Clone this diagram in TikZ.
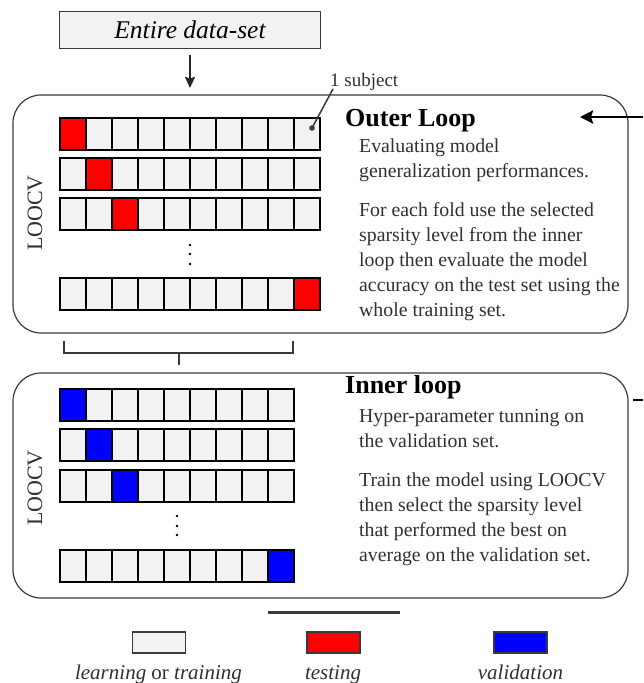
\documentclass[tikz,border=0pt]{standalone}
\usepackage{fontspec}
\setmainfont{Liberation Serif}
\usetikzlibrary{arrows.meta}
\definecolor{cellgray}{HTML}{F2F2F2}
\definecolor{edgegray}{HTML}{3A3A3A}
\definecolor{txtgray}{HTML}{303030}
\begin{document}
\begin{tikzpicture}[x=1pt,y=-1pt,
  cellbox/.style={draw=black, line width=1.2pt, minimum width=26pt, minimum height=32pt, inner sep=0pt, outer sep=0pt, anchor=north west},
  loopbox/.style={draw=edgegray, line width=1.2pt, rounded corners=28pt, inner sep=0pt, outer sep=0pt},
  bodytxt/.style={anchor=base west, inner sep=0pt, text=txtgray, font=\fontsize{19.8}{25}\selectfont},
  titletxt/.style={anchor=base west, inner sep=0pt, text=black, font=\fontsize{26}{30}\selectfont\bfseries},
  sidetxt/.style={rotate=90, inner sep=0pt, text=txtgray, font=\fontsize{22}{26}\selectfont},
  legbox/.style={draw=edgegray, line width=1.2pt, minimum width=53pt, minimum height=21pt, inner sep=0pt},
  legtxt/.style={anchor=base, inner sep=0pt, text=txtgray, font=\fontsize{21}{25}\selectfont},
  thick line/.style={draw=edgegray, line width=2.3pt},
  arr/.style={draw=black!85, line width=2.2pt, -{Stealth[length=11pt,width=10pt,inset=1.5pt]}},
  bigarr/.style={draw=black, line width=2.8pt, -{Stealth[length=13pt,width=13pt,inset=2pt]}}
]
\useasboundingbox (0,0) rectangle (643,683);

% entire data-set
\node[draw=edgegray, line width=1.2pt, fill=cellgray, minimum width=261pt, minimum height=37pt, inner sep=0pt,
      font=\fontsize{25.5}{30}\selectfont\itshape] (dataset) at (190,30) {Entire data-set};

% loop boxes
\node[loopbox, minimum width=615pt, minimum height=238pt] (outer) at (320.5,214) {};
\node[loopbox, minimum width=615pt, minimum height=225pt] (inner) at (320.5,485.5) {};

\draw[arr] ([yshift=-6pt]dataset.south) -- ([yshift=7pt]dataset.south |- outer.north);

% outer grid
\foreach \r/\yy/\tc in {1/118/1, 2/158/2, 3/198/3, 4/278/10} {
  \foreach \c in {1,...,10} {
    \ifnum\c=\tc\relax\def\fc{red}\else\def\fc{cellgray}\fi
    \node[cellbox, fill=\fc] (o\r-\c) at ({60+26*(\c-1)},\yy) {};
  }
}
% inner grid
\foreach \r/\yy/\tc in {1/389/1, 2/429/2, 3/470/3, 4/550/9} {
  \foreach \c in {1,...,9} {
    \ifnum\c=\tc\relax\def\fc{blue}\else\def\fc{cellgray}\fi
    \node[cellbox, fill=\fc] (i\r-\c) at ({60+26*(\c-1)},\yy) {};
  }
}

% vertical dots
\foreach \yy in {245,254,264} \fill (190,\yy) circle (1.3pt);
\foreach \yy in {516,526,535} \fill (177,\yy) circle (1.3pt);

% 1 subject
\node[anchor=base west, inner sep=0pt, text=txtgray, font=\fontsize{19}{23}\selectfont] (subj) at (330,86) {1 subject};
\coordinate (sdot) at (312,128);
\fill[edgegray] (sdot) circle (2.8pt);
\draw[edgegray, line width=1.5pt] (sdot) -- ([xshift=3pt,yshift=-3pt]subj.base west);

% LOOCV labels
\node[sidetxt] (loocv1) at (35,213) {LOOCV};
\node[sidetxt] (loocv2) at (35,488) {LOOCV};

% titles
\node[titletxt] (otitle) at (345,126.7) {Outer Loop};
\node[titletxt] (ititle) at (345,393.3) {Inner loop};

% outer body
\foreach \yy/\s [count=\i] in {152.7/Evaluating model, 177.7/generalization performances., 216.7/For each fold use the selected, 241.7/sparsity level from the inner, 266.7/loop then evaluate the model, 291.7/accuracy on the test set using the, 316.7/whole training set.}
  \node[bodytxt] (ob\i) at (359,\yy) {\s};
% inner body
\foreach \yy/\s [count=\i] in {422.7/Hyper-parameter tunning on, 447.7/the validation set., 486.7/Train the model using LOOCV, 511.7/then select the sparsity level, 536.7/that performed the best on, 561.7/average on the validation set.}
  \node[bodytxt] (ib\i) at (359,\yy) {\s};

% arrows from the right
\coordinate (rin) at (643,117);
\coordinate (rtip) at (580,117);
\draw[bigarr] (rin) -- (rtip);
\coordinate (rin2) at (643,400);
\coordinate (rout2) at (633,400);
\draw[draw=black, line width=2.8pt] (rout2) -- (rin2);

% bracket
\coordinate (bl) at (64,341);
\coordinate (br) at (293,341);
\coordinate (bm) at (179,353);
\coordinate (bs) at (179,365);
\draw[thick line] (bl) |- (bm) -| (br);
\draw[thick line] (bm) -- (bs);

% bottom line
\coordinate (ll) at (268,612);
\coordinate (lr) at (400,612);
\draw[draw=edgegray, line width=3pt] (ll) -- (lr);

% legend
\node[legbox, fill=cellgray] (lg1) at (159,642.5) {};
\node[legbox, fill=red] (lg2) at (333.5,642.5) {};
\node[legbox, fill=blue] (lg3) at (520.5,642.5) {};
\node[legtxt] (lt1) at (158.5,679) {\textit{learning} or \textit{training}};
\node[legtxt] (lt2) at (333,679) {\textit{testing}};
\node[legtxt] (lt3) at (520.5,679) {\textit{validation}};
\end{tikzpicture}
\end{document}
